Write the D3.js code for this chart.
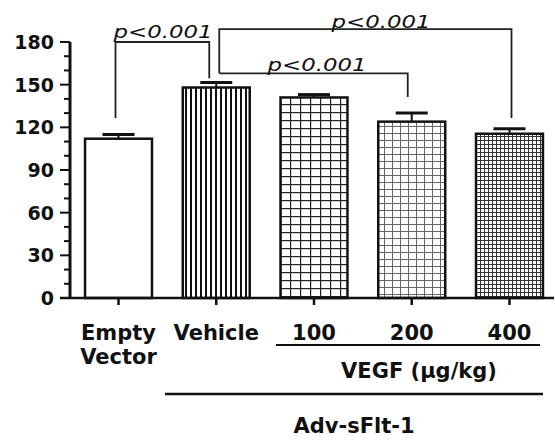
<!DOCTYPE html>
<html lang="en">
<head>
  <meta charset="UTF-8">
  <script src="https://d3js.org/d3.v7.min.js"></script>
  <style>
    body { margin: 0; background: #fff; }
    svg { display: block; }
    text { font-family: "DejaVu Sans", sans-serif; fill: #111; }
  </style>
</head>
<body>
<svg width="555" height="440"></svg>
<script>
  // data
  const groups = ['Empty Vector', 'Vehicle', '100', '200', '400'];
  const means = [112, 148, 141, 124, 115.5];
  const errors = [3, 3.5, 2, 6, 3.5];
  const fills = ['none', 'vert', 'grid10', 'grid8', 'grid4'];
  const yTicks = [0, 30, 60, 90, 120, 150, 180];
  const pText = 'p<0.001';

  // significance brackets (y values in data units)
  const brackets = [
    { a: 0, b: 1, level: 180, aEnd: 126.5, bEnd: 154.5, da: -3, db: -7, tx: 163, ty: 38 },
    { a: 1, b: 4, level: 189, aEnd: 158, bEnd: 126.5, da: 3, db: 2, tx: 381, ty: 28 },
    { a: 1, b: 3, level: 158, aEnd: 158, bEnd: 141.3, da: 3, db: -4, tx: 317, ty: 71 }
  ];

  const svg = d3.select('svg');

  const y = d3.scaleLinear().domain([0, 180]).range([298, 42]);
  const x = d3.scaleBand().domain(groups).range([69, 559])
    .paddingInner(0.315).paddingOuter(0.164);
  const cx = d => x(d) + x.bandwidth() / 2;

  // fill patterns
  const defs = svg.append('defs');
  function grid(id, sx, sy, w, col) {
    const p = defs.append('pattern').attr('id', id)
      .attr('patternUnits', 'userSpaceOnUse').attr('width', sx).attr('height', sy);
    p.append('rect').attr('width', sx).attr('height', sy).attr('fill', '#fff');
    p.append('line').attr('x1', 0.5).attr('x2', 0.5).attr('y1', 0).attr('y2', sy)
      .attr('stroke', col).attr('stroke-width', w);
    p.append('line').attr('x1', 0).attr('x2', sx).attr('y1', 0.5).attr('y2', 0.5)
      .attr('stroke', col).attr('stroke-width', w);
  }
  const pv = defs.append('pattern').attr('id', 'vert')
    .attr('patternUnits', 'userSpaceOnUse').attr('width', 5).attr('height', 10);
  pv.append('rect').attr('width', 5).attr('height', 10).attr('fill', '#fff');
  pv.append('line').attr('x1', 1).attr('x2', 1).attr('y1', 0).attr('y2', 10)
    .attr('stroke', '#111').attr('stroke-width', 2);
  grid('grid10', 10, 8, 1.4, '#222');
  grid('grid8', 8, 7, 1, '#666');
  grid('grid4', 4, 4, 1, '#333');

  // bars
  svg.selectAll('rect.bar').data(groups).enter().append('rect')
    .attr('class', 'bar')
    .attr('x', d => x(d))
    .attr('y', (d, i) => y(means[i]))
    .attr('width', x.bandwidth())
    .attr('height', (d, i) => y(0) - y(means[i]))
    .attr('fill', (d, i) => fills[i] === 'none' ? '#fff' : `url(#${fills[i]})`)
    .attr('stroke', '#111')
    .attr('stroke-width', 2.5);

  // error bars (upper only)
  const eb = svg.selectAll('g.err').data(groups).enter().append('g').attr('class', 'err');
  eb.append('line')
    .attr('x1', cx).attr('x2', cx)
    .attr('y1', (d, i) => y(means[i])).attr('y2', (d, i) => y(means[i] + errors[i]))
    .attr('stroke', '#111').attr('stroke-width', 2);
  eb.append('line')
    .attr('x1', d => cx(d) - 16).attr('x2', d => cx(d) + 16)
    .attr('y1', (d, i) => y(means[i] + errors[i])).attr('y2', (d, i) => y(means[i] + errors[i]))
    .attr('stroke', '#111').attr('stroke-width', 3);

  // y axis
  const yAxis = svg.append('g');
  yAxis.append('line').attr('x1', 70).attr('x2', 70).attr('y1', y(180)).attr('y2', y(0))
    .attr('stroke', '#111').attr('stroke-width', 3);
  yAxis.selectAll('line.tk').data(d3.range(0, 181, 10)).enter().append('line')
    .attr('x1', d => d % 30 === 0 ? 60 : 64).attr('x2', 70)
    .attr('y1', d => y(d)).attr('y2', d => y(d))
    .attr('stroke', '#111').attr('stroke-width', 2);
  yAxis.selectAll('text').data(yTicks).enter().append('text')
    .attr('x', 54).attr('y', d => y(d) + 7)
    .attr('text-anchor', 'end')
    .attr('font-size', 19).attr('font-weight', 'bold')
    .text(d => d);

  // x axis
  svg.append('line').attr('x1', 60).attr('x2', 554).attr('y1', y(0)).attr('y2', y(0))
    .attr('stroke', '#111').attr('stroke-width', 2.5);
  svg.selectAll('line.xt').data(groups).enter().append('line')
    .attr('x1', cx).attr('x2', cx)
    .attr('y1', y(0)).attr('y2', y(0) + 7)
    .attr('stroke', '#111').attr('stroke-width', 2.5);

  // x labels
  const lab = svg.append('g').attr('font-size', 21).attr('font-weight', 'bold')
    .attr('text-anchor', 'middle');
  groups.forEach(g => {
    const parts = g.split(' ');
    parts.forEach((t, k) => {
      lab.append('text').attr('x', cx(g)).attr('y', 340 + k * 24).text(t);
    });
  });
  svg.append('line').attr('x1', 276).attr('x2', 540).attr('y1', 345).attr('y2', 345)
    .attr('stroke', '#111').attr('stroke-width', 2);
  lab.append('text').attr('x', 419).attr('y', 378).text('VEGF (\u00b5g/kg)');
  svg.append('line').attr('x1', 165).attr('x2', 543).attr('y1', 394).attr('y2', 394)
    .attr('stroke', '#111').attr('stroke-width', 2.5);
  lab.append('text').attr('x', 354).attr('y', 433).text('Adv-sFlt-1');

  // significance brackets
  brackets.forEach(b => {
    const xa = cx(groups[b.a]) + b.da;
    const xb = cx(groups[b.b]) + b.db;
    svg.append('path')
      .attr('d', `M${xa},${y(b.aEnd)}V${y(b.level)}H${xb}V${y(b.bEnd)}`)
      .attr('fill', 'none').attr('stroke', '#222').attr('stroke-width', 1.8);
    svg.append('text').attr('x', b.tx).attr('y', b.ty).attr('text-anchor', 'middle')
      .attr('font-size', 17).attr('font-style', 'italic')
      .attr('textLength', 99).attr('lengthAdjust', 'spacingAndGlyphs')
      .text(pText);
  });
</script>
</body>
</html>
